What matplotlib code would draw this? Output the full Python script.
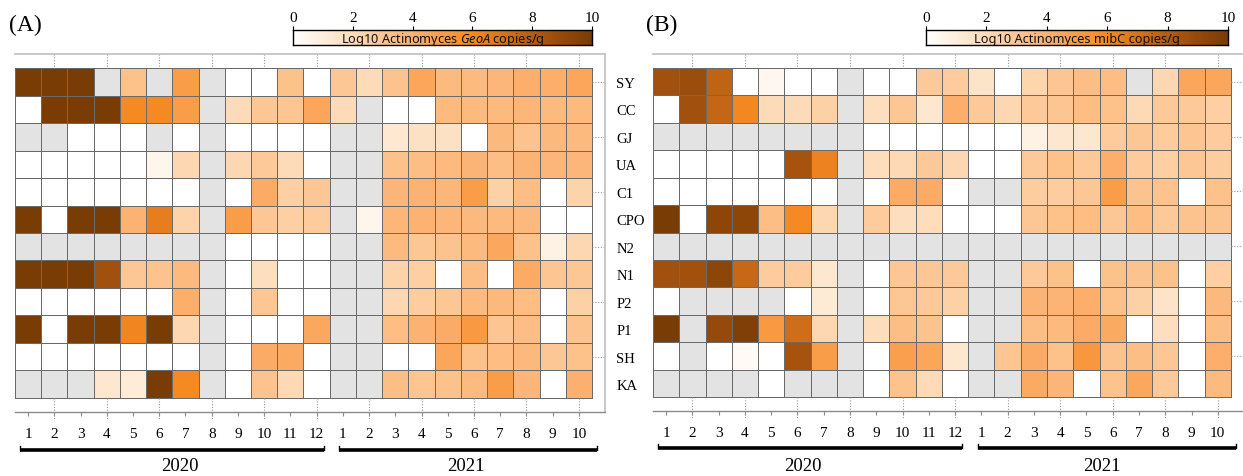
import numpy as np
import matplotlib
matplotlib.use('Agg')
import matplotlib.pyplot as plt
from matplotlib.colors import LinearSegmentedColormap
import matplotlib.transforms as mtransforms

nan = np.nan

# ---------------- data ----------------
rows = ['SY', 'CC', 'GJ', 'UA', 'C1', 'CPO', 'N2', 'N1', 'P2', 'P1', 'SH', 'KA']
months_2020 = [str(m) for m in range(1, 13)]
months_2021 = [str(m) for m in range(1, 11)]
years = ['2020', '2021']

# Panel A: Log10 Actinomyces GeoA copies/g (NaN = not measured, grey)
geoA_SY = [10, 10, 10, nan, 3.3, nan, 5.0, nan, 0, 0, 3.3, 0, 3.0, 2.0, 3.2, 4.6, 3.6, 3.6, 3.8, 4.2, 4.2, 4.6]
geoA_CC = [0, 10, 10, 10, 6.0, 6.0, 5.0, nan, 2.0, 3.0, 3.1, 4.6, 2.0, nan, 0, 0, 3.6, 3.6, 3.6, 3.8, 3.6, 3.6]
geoA_GJ = [nan, nan, 0, 0, 0, nan, 0, nan, 0, 0, 0, 0, nan, nan, 1.3, 1.7, 1.7, 0, 3.7, 3.2, 3.7, 3.6]
geoA_UA = [0, 0, 0, 0, 0, 0.6, 2.2, nan, 2.2, 2.9, 2.0, 0, nan, nan, 3.3, 3.4, 3.6, 3.9, 3.4, 3.9, 3.8, 3.8]
geoA_C1 = [0, 0, 0, 0, 0, 0, 0, nan, 0, 4.3, 2.6, 3.0, nan, nan, 3.8, 4.0, 3.8, 5.0, 2.5, 3.5, 0, 2.4]
geoA_CPO = [10, 0, 10, 10, 4.0, 6.6, 2.4, nan, 5.0, 3.0, 2.6, 2.8, nan, 0.6, 3.8, 4.0, 3.8, 3.7, 3.6, 3.7, 0, 0]
geoA_N2 = [nan, nan, nan, nan, nan, nan, nan, nan, 0, 0, 0, 0, nan, nan, 3.6, 3.0, 3.2, 3.6, 4.5, 3.3, 0.8, 2.2]
geoA_N1 = [10, 10, 10, 8.6, 3.0, 3.2, 3.6, nan, 0, 1.8, 0, 0, nan, nan, 2.4, 2.6, 0, 3.4, 0, 4.3, 3.1, 3.0]
geoA_P2 = [0, 0, 0, 0, 0, 0, 4.2, nan, 0, 3.0, 0, 0, nan, nan, 2.2, 2.7, 3.0, 3.6, 3.7, 3.5, 0, 2.5]
geoA_P1 = [10, 0, 10, 10, 6.2, 10, 2.2, nan, 0, 0, 0, 4.5, nan, nan, 3.5, 4.0, 4.3, 5.2, 3.1, 3.4, 0, 3.2]
geoA_SH = [0, 0, 0, 0, 0, 0, 0, nan, 0, 4.3, 4.4, 0, nan, nan, 0, 0, 4.6, 3.3, 3.5, 3.7, 3.0, 3.3]
geoA_KA = [nan, nan, nan, 1.4, 1.1, 10, 6.0, nan, 0, 3.2, 2.1, 0, nan, nan, 3.4, 3.1, 3.3, 3.6, 5.0, 3.8, 0, 4.1]

# Panel B: Log10 Actinomyces mibC copies/g
mibC_SY = [8.6, 8.8, 7.7, 0, 0.5, 0, 0, nan, 0, 0, 2.9, 2.8, 1.6, 0, 2.3, 3.1, 3.4, 3.5, nan, 2.2, 4.6, 4.6]
mibC_CC = [0, 8.6, 7.6, 6.1, 2.0, 2.0, 2.5, nan, 1.8, 3.0, 1.4, 4.2, 2.9, 2.2, 2.9, 3.1, 3.5, 3.3, 2.1, 2.9, 2.9, 2.6]
mibC_GJ = [nan, nan, nan, nan, nan, nan, nan, nan, 0, 0, 0, 0, 0, 0, 0.8, 1.4, 1.4, 2.8, 3.0, 2.8, 3.1, 2.8]
mibC_UA = [0, 0, 0, 0, 0, 8.5, 6.3, nan, 1.9, 2.1, 2.9, 2.2, 0, 0, 2.9, 3.3, 2.9, 4.2, 2.8, 2.6, 3.0, 2.7]
mibC_C1 = [0, 0, 0, 0, 0, 0, 0, nan, 0, 4.3, 4.3, 0, nan, nan, 2.7, 2.7, 3.0, 5.0, 3.2, 3.2, 0, 3.3]
mibC_CPO = [10, 0, 9.3, 9.3, 3.4, 6.0, 2.2, nan, 2.8, 1.8, 1.9, 0, 0, 0, 3.0, 3.3, 3.5, 3.0, 3.5, 2.9, 3.2, 3.2]
mibC_N2 = [nan] * 22
mibC_N1 = [8.6, 8.6, 9.3, 7.5, 2.8, 2.8, 1.4, nan, 0, 3.0, 3.0, 2.9, nan, nan, 2.9, 3.3, 0, 3.3, 3.2, 3.3, 0, 2.6]
mibC_P2 = [0, nan, nan, nan, nan, 0, 1.2, nan, 0, 3.0, 2.9, 2.5, nan, nan, 3.9, 3.9, 4.2, 3.3, 2.5, 1.6, 0, 3.7]
mibC_P1 = [10, nan, 9.0, 9.8, 5.2, 7.3, 2.2, nan, 1.9, 3.4, 3.2, 0, nan, nan, 3.4, 3.6, 4.3, 4.4, 0, 1.8, 0, 3.4]
mibC_SH = [0, nan, 0, 0.3, 0, 8.5, 5.0, nan, 0, 4.9, 4.6, 1.4, nan, 3.1, 4.3, 3.3, 5.3, 3.2, 3.4, 3.0, 0, 4.2]
mibC_KA = [nan, nan, nan, nan, 0, nan, nan, nan, 0, 3.2, 2.0, 0, nan, nan, 4.4, 3.8, 0, 3.2, 4.5, 2.9, 0, 3.6]

geoA = [geoA_SY, geoA_CC, geoA_GJ, geoA_UA, geoA_C1, geoA_CPO, geoA_N2, geoA_N1, geoA_P2, geoA_P1, geoA_SH, geoA_KA]
mibC = [mibC_SY, mibC_CC, mibC_GJ, mibC_UA, mibC_C1, mibC_CPO, mibC_N2, mibC_N1, mibC_P2, mibC_P1, mibC_SH, mibC_KA]

cbar_ticks = [0, 2, 4, 6, 8, 10]

# ---------------- style ----------------
SERIF = 'Liberation Serif'
SANS = 'Noto Sans'
plt.rcParams['mathtext.fontset'] = 'custom'
plt.rcParams['mathtext.rm'] = SANS
plt.rcParams['mathtext.it'] = SANS + ':italic'

cmap = LinearSegmentedColormap.from_list('orbr', [
    (0.0, '#FFFFFF'), (0.1, '#FEEEDD'), (0.2, '#FDDBB8'), (0.3, '#FDC794'),
    (0.4, '#FCB272'), (0.5, '#FA9D4A'), (0.6, '#F68A22'), (0.7, '#DA741B'),
    (0.8, '#B55D13'), (0.9, '#96490A'), (1.0, '#7A3C05')])
cmap.set_bad('#E3E3E3')

W, H = 1243, 477
fig = plt.figure(figsize=(W / 100, H / 100), dpi=100)


def rect(x0, y0, x1, y1):
    return [x0 / W, 1 - y1 / H, (x1 - x0) / W, (y1 - y0) / H]


def fy(y):
    return 1 - y / H


def panel(values, axrect, xmax, cbrect, label, letter, letter_xy, show_right,
          bar_y, year_y, year_x):
    ax = fig.add_axes(axrect)
    data = np.ma.masked_invalid(np.array(values, dtype=float))
    ncol = data.shape[1]
    nrow = data.shape[0]
    ax.pcolormesh(np.arange(ncol + 1), np.arange(nrow + 1), data, cmap=cmap,
                  vmin=0, vmax=10, edgecolors='#6A6A6A', linewidth=0.6)
    ax.set_xlim(0, xmax)
    ax.set_ylim(nrow + 0.51, -0.51)
    ax.spines['left'].set_visible(False)
    ax.spines['top'].set_color('#C4C4C4')
    ax.spines['top'].set_linewidth(1.3)
    ax.spines['right'].set_color('#C4C4C4')
    ax.spines['right'].set_linewidth(1.3)
    ax.spines['right'].set_visible(show_right)
    ax.spines['bottom'].set_color('#8A8A8A')
    ax.spines['bottom'].set_linewidth(1.0)

    centers = np.arange(ncol) + 0.5
    ax.set_xticks(centers)
    ax.set_xticklabels(months_2020 + months_2021, fontfamily=SERIF, fontsize=11)
    ax.tick_params(axis='x', direction='out', length=3, width=0.8, color='#8A8A8A', pad=8)

    if show_right:
        ax.yaxis.tick_right()
        ax.set_yticks(np.arange(nrow) + 0.5)
        ax.set_yticklabels(rows, fontfamily=SERIF, fontsize=10.5)
        ax.tick_params(axis='y', length=0, pad=8)
    else:
        ax.set_yticks([])

    even = np.arange(1, ncol, 2) + 0.5
    kw = dict(colors='#9A9A9A', linestyles=(0, (1, 1.5)), linewidth=0.8, clip_on=False)
    ax.vlines(even, nrow, nrow + 0.75, **kw)
    ax.vlines(even, -0.51, 0, **kw)
    ax.hlines(np.arange(0, nrow, 2) + 0.5, ncol, xmax, **kw)

    trans = mtransforms.blended_transform_factory(ax.transData, fig.transFigure)
    for (xa, xb), yx, yr in zip([(0.2, 11.78), (12.36, 22.2)], year_x, years):
        ax.plot([xa, xb], [fy(bar_y), fy(bar_y)], transform=trans, color='black',
                lw=2.6, solid_capstyle='butt', clip_on=False)
        for xe in (xa, xb):
            ax.plot([xe, xe], [fy(bar_y), fy(bar_y - 4)], transform=trans, color='black',
                    lw=1.0, clip_on=False)
        ax.text(yx, fy(year_y), yr, transform=trans, ha='center', va='center',
                fontfamily=SERIF, fontsize=13.5)

    # colour bar
    cax = fig.add_axes(cbrect)
    grad = np.linspace(0, 10, 512)[None, :]
    cax.imshow(grad, aspect='auto', cmap=cmap, vmin=0, vmax=10, extent=[0, 10, 0, 1])
    cax.set_xlim(0, 10)
    cax.set_ylim(0, 1)
    cax.set_yticks([])
    cax.xaxis.tick_top()
    cax.set_xticks(cbar_ticks)
    cax.set_xticklabels([str(t) for t in cbar_ticks], fontfamily=SERIF, fontsize=11)
    cax.tick_params(axis='x', direction='out', length=3, width=0.8, pad=1)
    for s in cax.spines.values():
        s.set_linewidth(1.0)
        s.set_color('black')
    cax.text(5, 0.42, label, ha='center', va='center', fontfamily=SANS,
             fontsize=9.2, color='#111111')

    fig.text(letter_xy[0] / W, fy(letter_xy[1]), letter, ha='center', va='center',
             fontfamily=SERIF, fontsize=17)
    return ax


panel(geoA, rect(15, 55, 605, 413), 22.496, rect(293, 31, 592, 46),
      r'Log10 Actinomyces $\mathit{GeoA}$ copies/g', '(A)', (25, 25), True,
      451, 467, (6.29, 17.2))
panel(mibC, rect(653, 55, 1243, 412), 22.46, rect(926, 31, 1228, 46),
      'Log10 Actinomyces mibC copies/g', '(B)', (662, 25), False,
      449, 467, (5.71, 17.1))

fig.savefig('out.png', dpi=100)
